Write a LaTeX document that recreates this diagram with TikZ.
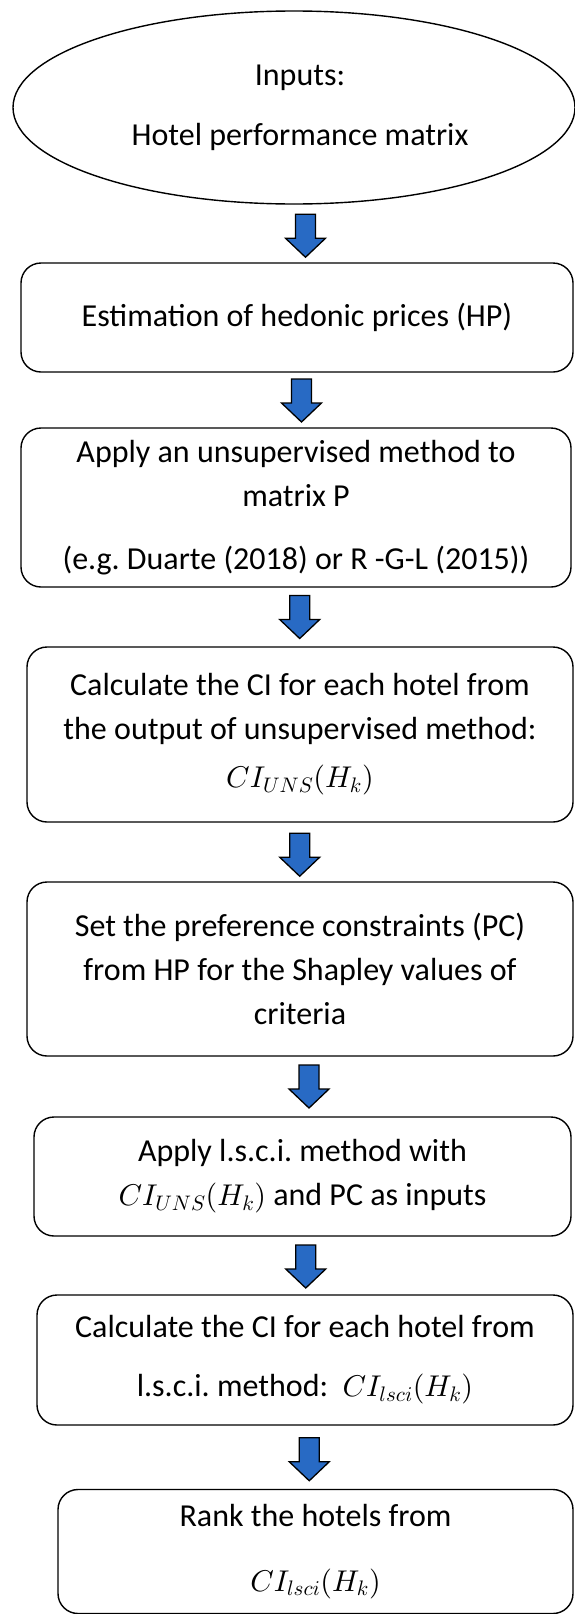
\documentclass[tikz,border=0pt]{standalone}
\usepackage[no-math]{fontspec}
\setmainfont{Carlito}
\usetikzlibrary{calc,shapes.geometric}
\DeclareFontShape{OT1}{cmr}{m}{n}{<-> cmr10}{}
\DeclareFontShape{OML}{cmm}{m}{it}{<-> cmmi10}{}
\DeclareFontShape{OMS}{cmsy}{m}{n}{<-> cmsy10}{}
\DeclareFontShape{OMX}{cmex}{m}{n}{<-> cmex10}{}
\DeclareMathSizes{32}{30}{21}{16}
\definecolor{arrowblue}{RGB}{40,106,196}
\tikzset{
  every node/.style={font=\fontsize{32}{44}\selectfont\frenchspacing, align=center, inner sep=0pt},
  procbox/.style={draw=black, line width=1.4pt, rounded corners=20pt, fill=white},
  inbox/.style={draw=black, line width=1.4pt, ellipse, fill=white},
  downarrow/.pic={
    \draw[fill=arrowblue, draw=black, line width=1.3pt, line join=miter]
      (-10,21.5) -- (10,21.5) -- (10,-2.5) -- (20,-2.5) -- (0,-21.5) -- (-20,-2.5) -- (-10,-2.5) -- cycle;
  }
}
\begin{document}
\begin{tikzpicture}[x=1pt,y=1pt]
\useasboundingbox (0,0) rectangle (574,-1614);
\node[inbox, minimum width=562pt, minimum height=193pt] (ell) at (294,-107.5)
  {\hspace*{12pt}Inputs:\\[16pt]\hspace*{12pt}Hotel performance matrix};
\node[procbox, minimum width=552pt, minimum height=109pt] (b1) at (297,-317.5)
  {Estimation of hedonic prices (HP)};
\node[procbox, minimum width=550pt, minimum height=159pt] (b2) at (296,-507.5)
  {Apply an unsupervised method to\\matrix P\\[19pt](e.g. Duarte (2018) or R -G-L (2015))};
\node[procbox, minimum width=546pt, minimum height=175pt] (b3) at (300,-734.5)
  {Calculate the CI for each hotel from\\the output of unsupervised method:\\[4pt]$CI_{UNS}(H_k)$};
\node[procbox, minimum width=546pt, minimum height=174pt] (b4) at (300,-969)
  {Set the preference constraints (PC)\\from HP for the Shapley values of\\criteria};
\node[procbox, minimum width=537pt, minimum height=119pt] (b5) at (302.5,-1176.5)
  {Apply l.s.c.i. method with\\$CI_{UNS}(H_k)$ and PC as inputs};
\node[procbox, minimum width=536pt, minimum height=130pt] (b6) at (305,-1360)
  {Calculate the CI for each hotel from\\[15pt]l.s.c.i. method:\ \ $CI_{lsci}(H_k)$};
\node[procbox, minimum width=515pt, minimum height=124pt] (b7) at (315.5,-1551.5)
  {Rank the hotels from\\[21pt]$CI_{lsci}(H_k)$};
\pic at ($(ell.south)!0.5!(b1.north)+(10,-2.25)$) {downarrow};
\pic at ($(b1.south)!0.5!(b2.north)+(5,-0.5)$) {downarrow};
\pic at ($(b2.south)!0.5!(b3.north)+(1.7,0)$) {downarrow};
\pic at ($(b3.south)!0.5!(b4.north)+(-0.3,-2.7)$) {downarrow};
\pic at ($(b4.south)!0.5!(b5.north)+(7.75,0)$) {downarrow};
\pic at ($(b5.south)!0.5!(b6.north)+(2,-1)$) {downarrow};
\pic at ($(b6.south)!0.5!(b7.north)+(-1,-2)$) {downarrow};
\end{tikzpicture}
\end{document}
